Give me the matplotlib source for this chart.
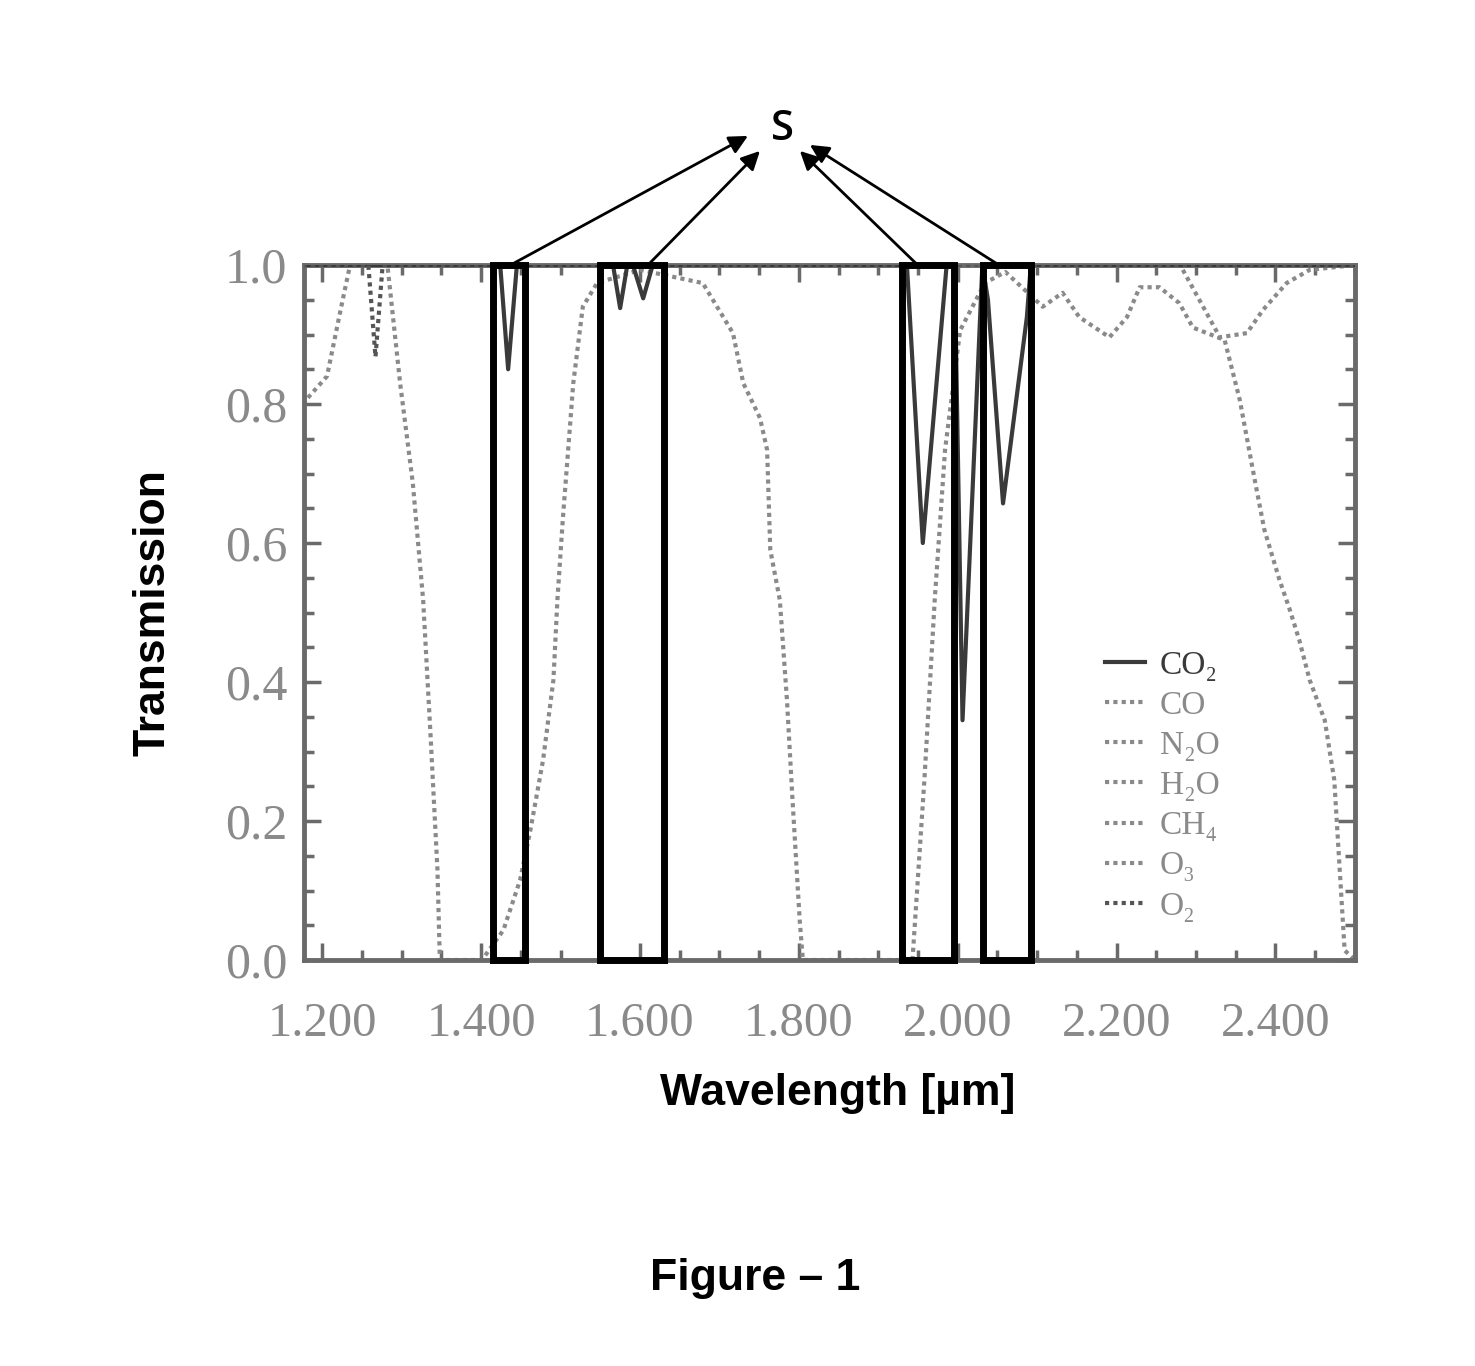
import numpy as np
import matplotlib
matplotlib.use("Agg")
import matplotlib.pyplot as plt
from matplotlib.patches import Rectangle
from matplotlib.ticker import MultipleLocator

# transmission spectra (wavelength in um, transmission 0..1)
wl_h2o = [1.175, 1.206, 1.223, 1.235, 1.282, 1.298, 1.314, 1.327, 1.336, 1.345,
          1.348, 1.401, 1.428, 1.449, 1.462, 1.478, 1.491, 1.496, 1.503, 1.516,
          1.528, 1.546, 1.600, 1.679, 1.717, 1.730, 1.751, 1.760, 1.764, 1.776,
          1.785, 1.792, 1.801, 1.805, 1.943, 1.958, 1.971, 1.984, 2.003, 2.034,
          2.060, 2.107, 2.132, 2.153, 2.191, 2.213, 2.229, 2.254, 2.279, 2.296,
          2.336, 2.355, 2.374, 2.386, 2.405, 2.418, 2.430, 2.443, 2.462, 2.474,
          2.487, 2.500]
t_h2o = [0.80, 0.84, 0.935, 1.0, 1.0, 0.83, 0.686, 0.518, 0.33, 0.13,
         0.0, 0.0, 0.043, 0.115, 0.187, 0.288, 0.403, 0.518, 0.637, 0.83,
         0.94, 0.974, 0.993, 0.974, 0.902, 0.83, 0.78, 0.734, 0.59, 0.518,
         0.374, 0.23, 0.058, 0.0, 0.0, 0.259, 0.518, 0.734, 0.906, 0.974,
         0.99, 0.94, 0.96, 0.925, 0.896, 0.925, 0.968, 0.968, 0.945, 0.91,
         0.892, 0.806, 0.69, 0.619, 0.547, 0.504, 0.46, 0.403, 0.345, 0.259,
         0.014, 0.0]

wl_co2 = [1.175, 1.424, 1.434, 1.445, 1.566, 1.575, 1.584, 1.591, 1.604, 1.616,
          1.936, 1.956, 1.986, 1.996, 2.006, 2.031, 2.038, 2.057, 2.087, 2.092, 2.500]
t_co2 = [1.0, 1.0, 0.85, 1.0, 1.0, 0.938, 1.0, 1.0, 0.952, 1.0,
         1.0, 0.60, 1.0, 1.0, 0.345, 1.0, 0.95, 0.657, 0.925, 1.0, 1.0]

wl_ch4 = [1.175, 2.280, 2.330, 2.364, 2.384, 2.414, 2.443, 2.500]
t_ch4 = [1.0, 1.0, 0.896, 0.902, 0.935, 0.974, 0.993, 1.0]

wl_o2 = [1.175, 1.258, 1.267, 1.276, 2.500]
t_o2 = [1.0, 1.0, 0.868, 1.0, 1.0]

wl_flat = [1.175, 2.500]
t_co = [1.0, 1.0]
t_n2o = [1.0, 1.0]
t_o3 = [1.0, 1.0]

# selected bands S
box_left = [1.415, 1.550, 1.930, 2.032]
box_right = [1.455, 1.630, 1.995, 2.092]
arrow_frac = [0.55, 0.75, 0.30, 0.33]

xticks = [1.2, 1.4, 1.6, 1.8, 2.0, 2.2, 2.4]
yticks = [0.0, 0.2, 0.4, 0.6, 0.8, 1.0]

serif = ['Liberation Serif', 'DejaVu Serif']
sans = ['Liberation Sans', 'DejaVu Sans']
gray = '#8a8a8a'
dark = '#3a3a3a'

fig = plt.figure(figsize=(14.75, 13.66), dpi=100)
ax = fig.add_axes([0.2061, 0.2972, 0.7125, 0.5088])

dot = (0, (1, 1))
ax.plot(wl_co2, t_co2, color=dark, lw=3, label='CO\u2082', zorder=4)
ax.plot(wl_flat, t_co, color=gray, lw=3, ls=dot, label='CO')
ax.plot(wl_flat, t_n2o, color=gray, lw=3, ls=dot, label='N\u2082O')
ax.plot(wl_h2o, t_h2o, color=gray, lw=3, ls=dot, label='H\u2082O')
ax.plot(wl_ch4, t_ch4, color=gray, lw=3, ls=dot, label='CH\u2084')
ax.plot(wl_flat, t_o3, color=gray, lw=3, ls=dot, label='O\u2083')
ax.plot(wl_o2, t_o2, color='#555555', lw=3, ls=dot, label='O\u2082', zorder=4)

for l, r in zip(box_left, box_right):
    ax.add_patch(Rectangle((l, 0), r - l, 1, fill=False, lw=5, ec='black',
                           zorder=6, clip_on=False))

ax.set_xlim(1.177, 2.5)
ax.set_ylim(0, 1)
ax.set_xticks(xticks)
ax.set_xticklabels(['%.3f' % v for v in xticks])
ax.set_yticks(yticks)
ax.set_yticklabels(['%.1f' % v for v in yticks])
ax.xaxis.set_minor_locator(MultipleLocator(0.05))
ax.yaxis.set_minor_locator(MultipleLocator(0.05))
ax.tick_params(which='both', direction='in', top=True, right=True,
               color='#6a6a6a', width=2.5)
ax.tick_params(which='major', length=12)
ax.tick_params(which='minor', length=7)
ax.tick_params(axis='x', pad=30, labelsize=35, labelcolor='#8a8a8a')
ax.tick_params(axis='y', pad=12, labelsize=36, labelcolor='#8a8a8a')
for lab in ax.get_xticklabels() + ax.get_yticklabels():
    lab.set_family(serif)
for sp in ax.spines.values():
    sp.set_color('#6a6a6a')
    sp.set_linewidth(3.5)

ax.set_xlabel('Wavelength [\u00b5m]', fontsize=32, fontweight='bold', family=sans)
ax.xaxis.set_label_coords(0.508, -0.1626)
ax.set_ylabel('Transmission', fontsize=32, fontweight='bold', family=sans)
ax.yaxis.set_label_coords(-0.1237, 0.5)

leg = ax.legend(loc='upper left', bbox_to_anchor=(0.762, 0.446), frameon=False,
                borderpad=0, borderaxespad=0, handlelength=1.2,
                handletextpad=0.45, labelspacing=0.29,
                prop={'family': serif, 'size': 24})
for i, t in enumerate(leg.get_texts()):
    t.set_color(dark if i == 0 else '#8a8a8a')

# label S with arrows from the selected bands
s_pos = (0.5308, 0.9056)
heads = [(-0.0237, -0.0051), (-0.0156, -0.0161), (0.0115, -0.0161), (0.0183, -0.0117)]
fig.text(s_pos[0], s_pos[1], 'S', fontsize=30, fontweight='semibold',
         ha='center', va='center', family=['Open Sans', 'DejaVu Sans'])
for l, r, f, h in zip(box_left, box_right, arrow_frac, heads):
    ax.annotate('', xy=(s_pos[0] + h[0], s_pos[1] + h[1]), xycoords='figure fraction',
                xytext=(l + f * (r - l), 1.0), textcoords='data',
                arrowprops=dict(arrowstyle='-|>', color='black', lw=2,
                                mutation_scale=28, shrinkA=0, shrinkB=0))

fig.text(0.5119, 0.0644, 'Figure \u2013 1', fontsize=32, fontweight='bold',
         ha='center', va='center', family=sans)

fig.savefig('out.png', dpi=100, facecolor='white')
